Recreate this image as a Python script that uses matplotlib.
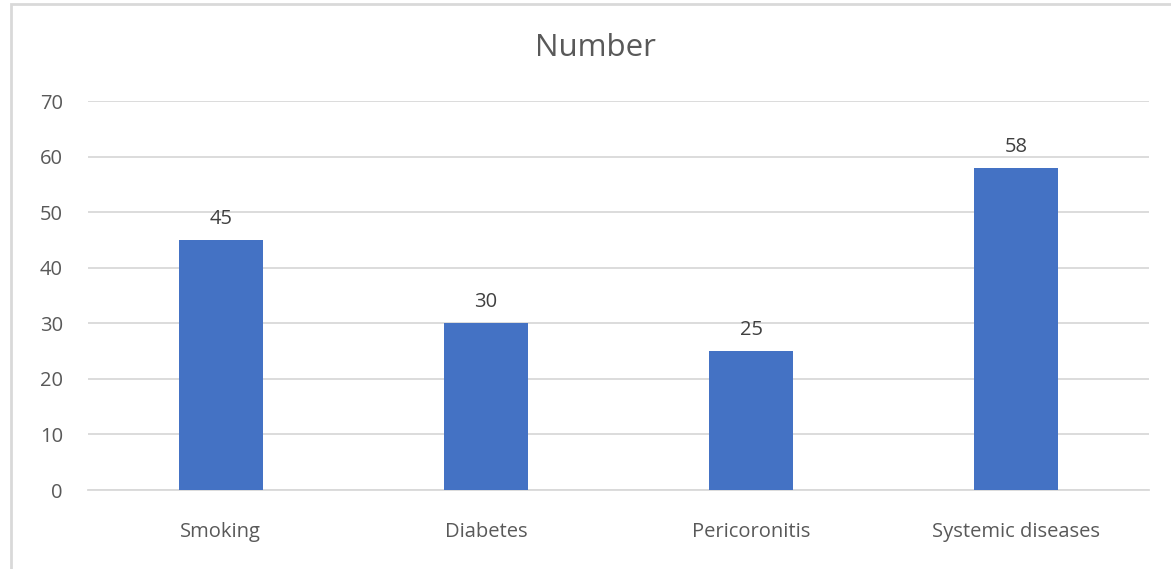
import matplotlib
matplotlib.use("Agg")
import matplotlib.pyplot as plt
from matplotlib.patches import Rectangle

categories = ["Smoking", "Diabetes", "Pericoronitis", "Systemic diseases"]
values = [45, 30, 25, 58]
yticks = [0, 10, 20, 30, 40, 50, 60, 70]

plt.rcParams['font.family'] = ['Open Sans', 'DejaVu Sans']
W, H = 1171, 569
fig = plt.figure(figsize=(W/100, H/100), dpi=100)
fig.patch.set_facecolor('white')

# outer chart frame
fig.patches.append(Rectangle((10.5/W, -0.1), 1.2, 1 - 3.5/H + 0.1, transform=fig.transFigure,
                             fill=False, edgecolor='#d9d9d9', linewidth=2, zorder=0))

ax = fig.add_axes([88/W, 1 - 490/H, (1149-88)/W, (490-101)/H])
x = list(range(len(categories)))
bars = ax.bar(x, values, width=0.317, color='#4472c4', zorder=3)
ax.set_xlim(-0.5, len(categories) - 0.5)
ax.set_ylim(0, 70)
ax.set_yticks(yticks)
ax.set_xticks(x)
ax.set_xticklabels(categories)
ax.grid(axis='y', color='#d9d9d9', linewidth=1.3, zorder=0)
for s in ['top', 'right', 'left']:
    ax.spines[s].set_visible(False)
ax.spines['bottom'].set_color('#d9d9d9')
ax.spines['bottom'].set_linewidth(1.3)
ax.tick_params(axis='both', length=0, colors='#595959', labelsize=14.5)
ax.tick_params(axis='y', pad=18)
ax.tick_params(axis='x', pad=23)
for b, v in zip(bars, values):
    ax.annotate(str(v), (b.get_x() + b.get_width()/2, v), xytext=(0, 8),
                textcoords='offset points', ha='center', va='bottom',
                fontsize=14.5, color='#404040')
fig.text(595/W, 1 - 48/H, "Number", ha='center', va='center', fontsize=22.5, color='#595959')
fig.savefig('out.png', dpi=100)
